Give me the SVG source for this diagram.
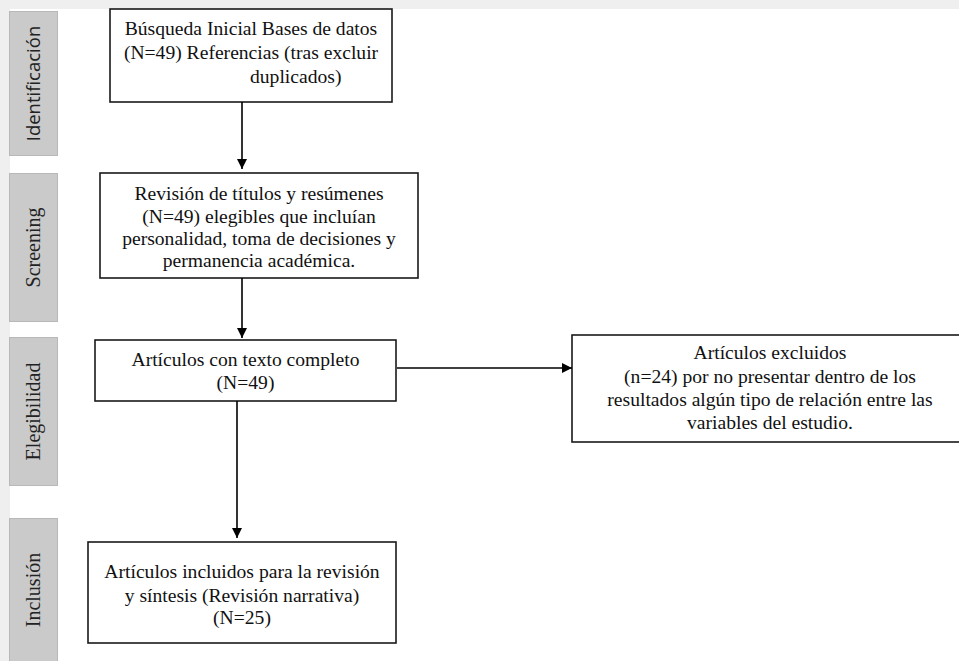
<svg xmlns="http://www.w3.org/2000/svg" width="959" height="661" viewBox="0 0 959 661">
<style>
.box{fill:#fff;stroke:#1a1a1a;stroke-width:1.6}
.lab{fill:#cacaca;stroke:#b8b8b8;stroke-width:1}
.t{font-family:'Liberation Serif',Tinos,'Times New Roman','DejaVu Serif',serif;font-size:19.6px;fill:#111;text-anchor:middle}
.ls{font-family:'Liberation Serif',Tinos,'Times New Roman','DejaVu Serif',serif;font-size:20px;fill:#222;text-anchor:middle}
.lsans{font-family:'Open Sans','Liberation Sans',sans-serif;font-size:18.5px;fill:#222;text-anchor:middle}
.con{stroke:#000;stroke-width:1.6;fill:none;marker-end:url(#ah)}
</style>
<defs>
<marker id="ah" markerUnits="userSpaceOnUse" markerWidth="10" markerHeight="10" refX="10" refY="5" orient="auto">
<path d="M0,0 L10,5 L0,10 z" fill="#000"/>
</marker>
</defs>
<rect x="0" y="0" width="959" height="661" fill="#efefef"/>
<rect x="10" y="9" width="949" height="652" fill="#fff"/>

<g id="lab-identificacion">
<rect class="lab" x="9.5" y="11.5" width="48" height="144"/>
<text class="lsans" transform="translate(40,83.5) rotate(-90)">Identificación</text>
</g>
<g id="lab-screening">
<rect class="lab" x="9.5" y="173.5" width="48" height="148"/>
<text class="ls" transform="translate(40,247.5) rotate(-90)">Screening</text>
</g>
<g id="lab-elegibilidad">
<rect class="lab" x="9.5" y="337.5" width="48" height="148"/>
<text class="ls" transform="translate(40,411.5) rotate(-90)">Elegibilidad</text>
</g>
<g id="lab-inclusion">
<rect class="lab" x="9.5" y="518.5" width="48" height="150"/>
<text class="ls" transform="translate(40,590) rotate(-90)">Inclusión</text>
</g>

<g id="n1">
<rect class="box" x="110" y="9" width="282" height="93"/>
<text class="t" x="251" y="35">Búsqueda Inicial Bases de datos</text>
<text class="t" x="251" y="59">(N=49) Referencias (tras excluir</text>
<text class="t" x="250" y="83" style="text-anchor:start">duplicados)</text>
</g>
<g id="n2">
<rect class="box" x="100" y="173" width="318" height="105"/>
<text class="t" x="259" y="200">Revisión de títulos y resúmenes</text>
<text class="t" x="259" y="222.5">(N=49) elegibles que incluían</text>
<text class="t" x="259" y="244.5">personalidad, toma de decisiones y</text>
<text class="t" x="259" y="266.5">permanencia académica.</text>
</g>
<g id="n3">
<rect class="box" x="95" y="340" width="301" height="61"/>
<text class="t" x="245.5" y="366">Artículos con texto completo</text>
<text class="t" x="245.5" y="389">(N=49)</text>
</g>
<g id="n4">
<rect class="box" x="88" y="542" width="308" height="101"/>
<text class="t" x="242" y="578">Artículos incluidos para la revisión</text>
<text class="t" x="242" y="601.5">y síntesis (Revisión narrativa)</text>
<text class="t" x="242" y="624">(N=25)</text>
</g>
<g id="n5">
<rect class="box" x="572" y="335" width="396" height="107"/>
<text class="t" x="770" y="359">Artículos excluidos</text>
<text class="t" x="770" y="382.5">(n=24) por no presentar dentro de los</text>
<text class="t" x="770" y="405.5">resultados algún tipo de relación entre las</text>
<text class="t" x="770" y="429">variables del estudio.</text>
</g>

<g id="connectors">
<line class="con" x1="242" y1="102" x2="242" y2="169"/>
<line class="con" x1="242" y1="278" x2="242" y2="338"/>
<line class="con" x1="237" y1="401" x2="237" y2="538"/>
<line class="con" x1="397" y1="368" x2="572" y2="368"/>
</g>
</svg>
